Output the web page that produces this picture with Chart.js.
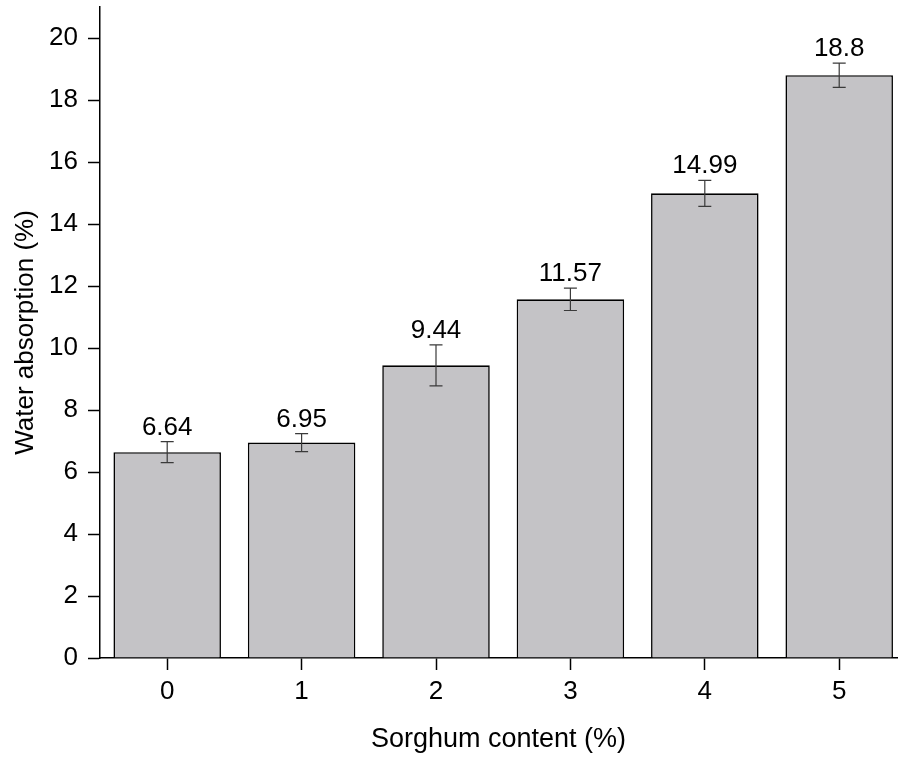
<!DOCTYPE html>
<html><head><meta charset="utf-8">
<script src="https://cdn.jsdelivr.net/npm/chart.js@4.4.0/dist/chart.umd.min.js"></script>
<style>html,body{margin:0;padding:0;background:#fff;overflow:hidden}</style>
</head><body>
<canvas id="c" width="898" height="758"></canvas>
<script>
const categories = [0, 1, 2, 3, 4, 5];
const waterAbsorption = [6.64, 6.95, 9.44, 11.57, 14.99, 18.8];
const errors = [0.34, 0.29, 0.66, 0.36, 0.42, 0.39];
const valueLabels = ['6.64', '6.95', '9.44', '11.57', '14.99', '18.8'];
const yTicks = [0, 2, 4, 6, 8, 10, 12, 14, 16, 18, 20];
const xTitle = 'Sorghum content (%)';
const yTitle = 'Water absorption (%)';

const FONT = 'Liberation Sans, Arial, sans-serif';

const errorBarPlugin = {
  id: 'errorBars',
  afterDatasetsDraw(chart) {
    const ctx = chart.ctx;
    const xs = chart.scales.x, ys = chart.scales.y;
    ctx.save();
    categories.forEach((c, i) => {
      const x = xs.getPixelForValue(c);
      const yTop = ys.getPixelForValue(waterAbsorption[i] + errors[i]);
      const yBot = ys.getPixelForValue(waterAbsorption[i] - errors[i]);
      ctx.strokeStyle = '#3a3a3a';
      ctx.lineWidth = 1.2;
      ctx.beginPath();
      ctx.moveTo(x, yTop); ctx.lineTo(x, yBot);
      ctx.moveTo(x - 6.5, yTop); ctx.lineTo(x + 6.5, yTop);
      ctx.moveTo(x - 6.5, yBot); ctx.lineTo(x + 6.5, yBot);
      ctx.stroke();
      ctx.fillStyle = '#000';
      ctx.font = '26px ' + FONT;
      ctx.textAlign = 'center';
      ctx.textBaseline = 'alphabetic';
      ctx.fillText(valueLabels[i], x, yTop - 7);
    });
    ctx.restore();
  }
};

new Chart(document.getElementById('c'), {
  type: 'bar',
  data: {
    datasets: [{
      data: categories.map((c, i) => ({ x: c, y: waterAbsorption[i] })),
      backgroundColor: '#c4c3c6',
      borderColor: '#000',
      borderWidth: 1.6,
      barPercentage: 0.8,
      categoryPercentage: 1.0
    }]
  },
  options: {
    responsive: false,
    animation: false,
    devicePixelRatio: 1,
    layout: { padding: { top: 7, right: 1, left: 0, bottom: 0 } },
    plugins: { legend: { display: false }, tooltip: { enabled: false } },
    scales: {
      x: {
        type: 'linear',
        min: -0.5,
        max: 5.43,
        offset: false,
        afterBuildTicks(scale) { scale.ticks = categories.map(v => ({ value: v })); },
        afterFit(scale) { scale.height = 100; scale.paddingLeft = 0; scale.paddingRight = 0; },
        grid: { display: true, drawOnChartArea: false, drawTicks: true, tickLength: 12, tickColor: '#000', tickWidth: 1.5, offset: false },
        border: { display: true, color: '#000', width: 1.5 },
        ticks: { color: '#000', font: { family: FONT, size: 26 }, padding: 6, callback: v => String(v) },
        title: { display: true, text: xTitle, color: '#000', font: { family: FONT, size: 27 }, padding: { top: 0, bottom: 2 } }
      },
      y: {
        min: 0,
        max: 21,
        afterBuildTicks(scale) { scale.ticks = yTicks.map(v => ({ value: v })); },
        afterFit(scale) { scale.width = 100; scale.paddingTop = 0; scale.paddingBottom = 0; },
        grid: { display: true, drawOnChartArea: false, drawTicks: true, tickLength: 12, tickColor: '#000', tickWidth: 1.5 },
        border: { display: true, color: '#000', width: 1.5 },
        ticks: { color: '#000', font: { family: FONT, size: 26 }, padding: 10, callback: v => String(v) },
        title: { display: true, text: yTitle, color: '#000', font: { family: FONT, size: 26 }, padding: { top: 10, bottom: 0 } }
      }
    }
  },
  plugins: [errorBarPlugin]
});
</script>
</body></html>
